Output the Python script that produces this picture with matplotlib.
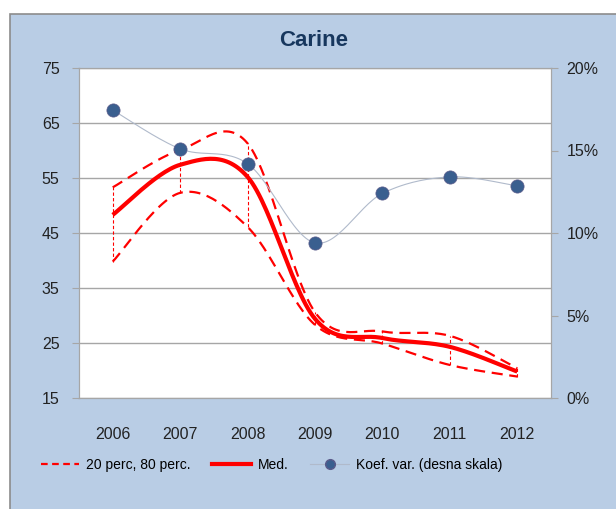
import numpy as np
import matplotlib
matplotlib.use("Agg")
import matplotlib.pyplot as plt
from matplotlib.patches import Rectangle
from matplotlib.lines import Line2D
from matplotlib.ticker import FuncFormatter

# Podaci
godine = ["2006", "2007", "2008", "2009", "2010", "2011", "2012"]
perc20 = [39.8, 52.3, 46.1, 28.3, 24.9, 21.0, 18.9]
perc80 = [53.3, 60.1, 61.3, 30.6, 27.1, 26.3, 20.4]
medijan = [48.3, 57.4, 55.2, 29.4, 25.9, 24.3, 19.8]
koef_var = [17.45, 15.1, 14.2, 9.4, 12.4, 13.4, 12.85]  # u %

plt.rcParams["font.family"] = ["Liberation Sans", "DejaVu Sans"]

BLUE_BG = "#B9CDE5"
RED = "#FF0000"
GRID = "#A6A6A6"


# Excel-ovo zaglađivanje linija (Bezier kroz točke)
def zagladi(x, y, n=30):
    pts = np.column_stack([x, y]).astype(float)
    P = np.vstack([pts[0], pts, pts[-1]])
    t = np.linspace(0, 1, n)[:, None]
    segs = []
    for i in range(1, len(P) - 2):
        p0, p1, p2, p3 = P[i - 1], P[i], P[i + 1], P[i + 2]
        c1 = p1 + (p2 - p0) / 6
        c2 = p2 - (p3 - p1) / 6
        segs.append((1 - t) ** 3 * p1 + 3 * (1 - t) ** 2 * t * c1
                    + 3 * (1 - t) * t ** 2 * c2 + t ** 3 * p2)
    s = np.vstack(segs)
    return s[:, 0], s[:, 1]


fig = plt.figure(figsize=(6.16, 5.09), dpi=100)
fig.patch.set_facecolor("white")
fig.add_artist(Rectangle((10 / 616, -0.01), 1.0, 1 - 14 / 509 + 0.01,
                         transform=fig.transFigure, facecolor=BLUE_BG,
                         edgecolor="#8C8C8C", lw=1.2, zorder=-10))

ax = fig.add_axes([79 / 616, 1 - 398 / 509, (551 - 79) / 616, (398 - 68) / 509])
ax.set_facecolor("white")
x = np.arange(len(godine))

# visoko-nisko linije
ax.vlines(x, perc20, perc80, colors=RED, linestyles=(0, (3, 2)), lw=0.8, zorder=2)

xs, ys = zagladi(x, perc80)
ax.plot(xs, ys, color=RED, lw=1.6, ls=(0, (5, 3)), zorder=3)
xs, ys = zagladi(x, perc20)
ax.plot(xs, ys, color=RED, lw=1.6, ls=(0, (5, 3)), zorder=3)
xs, ys = zagladi(x, medijan)
ax.plot(xs, ys, color=RED, lw=3.0, zorder=4, solid_capstyle="butt")

ax.set_xlim(-0.5, len(godine) - 0.5)
ax.set_ylim(15, 75)
ax.set_yticks(np.arange(15, 76, 10))
ax.set_xticks(x)
ax.set_xticklabels(godine)
ax.grid(axis="y", color=GRID, lw=1.0)
ax.set_axisbelow(True)
for s in ax.spines.values():
    s.set_color(GRID)
ax.tick_params(axis="y", length=5, color=GRID, labelsize=11.5, labelcolor="#222222", pad=9)
ax.tick_params(axis="x", length=0, labelsize=11.5, labelcolor="#222222", pad=21)

ax2 = ax.twinx()
xs, ys = zagladi(x, koef_var)
ax2.plot(xs, ys, color="#B0BACB", lw=0.8, zorder=3)
ax2.plot(x, koef_var, ls="none", marker="o", ms=9.5, color="#3A5F8F",
         markeredgecolor="#5A5A8A", markeredgewidth=0.5, zorder=5)
ax2.set_ylim(0, 20)
ax2.set_yticks(np.arange(0, 21, 5))
ax2.yaxis.set_major_formatter(FuncFormatter(lambda v, p: f"{v:.0f}%"))
ax2.tick_params(axis="y", length=5, color=GRID, labelsize=11.5, labelcolor="#222222", pad=6)
for s in ax2.spines.values():
    s.set_color(GRID)

fig.text(314 / 616, 1 - 40 / 509, "Carine", ha="center", va="center",
         fontsize=16, fontweight="bold", color="#17375E")

handles = [
    Line2D([], [], color=RED, lw=1.6, ls=(0, (3, 2))),
    Line2D([], [], color=RED, lw=3.0),
    Line2D([], [], color="#B0BACB", lw=0.8, marker="o", ms=7,
           markerfacecolor="#3A5F8F", markeredgecolor="#5A5A8A"),
]
labels = ["20 perc, 80 perc.", "Med.", "Koef. var. (desna skala)"]
fig.legend(handles, labels, loc="center left", bbox_to_anchor=(28 / 616, 1 - 465 / 509),
           ncol=3, frameon=False, fontsize=10, handlelength=2.8,
           handletextpad=0.45, columnspacing=1.6)

fig.savefig("out.png", dpi=100)
